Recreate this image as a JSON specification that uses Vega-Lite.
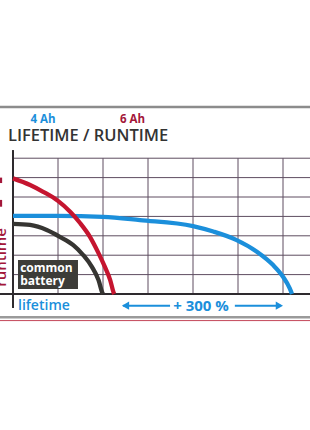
{
  "$schema": "https://vega.github.io/schema/vega-lite/v6.json",
  "autosize": {"type": "none"},
  "width": 310,
  "height": 430,
  "padding": 0,
  "background": "#ffffff",
  "config": {"view": {"stroke": null}},
  "datasets": {
    "gridv": [{"gx": 1}, {"gx": 2}, {"gx": 3}, {"gx": 4}, {"gx": 5}, {"gx": 6}],
    "gridh": [{"gy": 1}, {"gy": 2}, {"gy": 3}, {"gy": 4}, {"gy": 5}, {"gy": 6}, {"gy": 7}],
    "curves": [
      {"series": "4 Ah", "o": 0, "cx": 0, "cy": 4.03},
      {"series": "4 Ah", "o": 1, "cx": 1, "cy": 4.03},
      {"series": "4 Ah", "o": 2, "cx": 2, "cy": 3.98},
      {"series": "4 Ah", "o": 3, "cx": 2.82, "cy": 3.81},
      {"series": "4 Ah", "o": 4, "cx": 4.0, "cy": 3.5},
      {"series": "4 Ah", "o": 5, "cx": 4.45, "cy": 3.22},
      {"series": "4 Ah", "o": 6, "cx": 4.97, "cy": 2.78},
      {"series": "4 Ah", "o": 7, "cx": 5.42, "cy": 2.18},
      {"series": "4 Ah", "o": 8, "cx": 5.78, "cy": 1.49},
      {"series": "4 Ah", "o": 9, "cx": 6.0, "cy": 0.89},
      {"series": "4 Ah", "o": 10, "cx": 6.15, "cy": 0.29},
      {"series": "4 Ah", "o": 11, "cx": 6.2, "cy": 0},
      {"series": "6 Ah", "o": 0, "cx": 0, "cy": 5.96},
      {"series": "6 Ah", "o": 1, "cx": 0.38, "cy": 5.62},
      {"series": "6 Ah", "o": 2, "cx": 0.67, "cy": 5.27},
      {"series": "6 Ah", "o": 3, "cx": 1.0, "cy": 4.8},
      {"series": "6 Ah", "o": 4, "cx": 1.27, "cy": 4.24},
      {"series": "6 Ah", "o": 5, "cx": 1.49, "cy": 3.66},
      {"series": "6 Ah", "o": 6, "cx": 1.71, "cy": 2.95},
      {"series": "6 Ah", "o": 7, "cx": 1.9, "cy": 2.11},
      {"series": "6 Ah", "o": 8, "cx": 2.04, "cy": 1.41},
      {"series": "6 Ah", "o": 9, "cx": 2.16, "cy": 0.72},
      {"series": "6 Ah", "o": 10, "cx": 2.24, "cy": 0.05},
      {"series": "6 Ah", "o": 11, "cx": 2.25, "cy": 0},
      {"series": "common", "o": 0, "cx": 0, "cy": 3.62},
      {"series": "common", "o": 1, "cx": 0.38, "cy": 3.56},
      {"series": "common", "o": 2, "cx": 0.75, "cy": 3.3},
      {"series": "common", "o": 3, "cx": 1.04, "cy": 2.95},
      {"series": "common", "o": 4, "cx": 1.34, "cy": 2.52},
      {"series": "common", "o": 5, "cx": 1.56, "cy": 2.01},
      {"series": "common", "o": 6, "cx": 1.75, "cy": 1.41},
      {"series": "common", "o": 7, "cx": 1.9, "cy": 0.72},
      {"series": "common", "o": 8, "cx": 1.99, "cy": 0.04},
      {"series": "common", "o": 9, "cx": 2.0, "cy": 0}
    ]
  },
  "data": {"name": "gridv"},
  "layer": [
    {
      "data": {"values": [{"ly": 9.64}]},
      "mark": {"type": "rule", "color": "#8c8c8c", "strokeWidth": 2.5},
      "encoding": {
        "x": {"datum": -0.289, "type": "quantitative", "scale": {"domain": [-0.289, 6.6], "nice": false, "zero": false}, "axis": null},
        "x2": {"datum": 6.6},
        "y": {"field": "ly", "type": "quantitative", "scale": {"domain": [-7.01, 15.155], "nice": false, "zero": false}, "axis": null}
      }
    },
    {
      "data": {"values": [{"ly": -1.2}]},
      "mark": {"type": "rule", "color": "#9a9a9a", "strokeWidth": 2.5},
      "encoding": {
        "x": {"datum": -0.289, "type": "quantitative"},
        "x2": {"datum": 6.6},
        "y": {"field": "ly", "type": "quantitative"}
      }
    },
    {
      "data": {"values": [{"ly": -1.37}]},
      "mark": {"type": "rule", "color": "#c4475a", "strokeWidth": 1},
      "encoding": {
        "x": {"datum": -0.289, "type": "quantitative"},
        "x2": {"datum": 6.6},
        "y": {"field": "ly", "type": "quantitative"}
      }
    },
    {
      "data": {"name": "gridv"},
      "mark": {"type": "rule", "color": "#5e4d60", "strokeWidth": 1},
      "encoding": {
        "x": {"field": "gx", "type": "quantitative"},
        "y": {"datum": 0, "type": "quantitative"},
        "y2": {"datum": 7}
      }
    },
    {
      "data": {"name": "gridh"},
      "mark": {"type": "rule", "color": "#5e4d60", "strokeWidth": 1},
      "encoding": {
        "x": {"datum": 0, "type": "quantitative"},
        "x2": {"datum": 6.6},
        "y": {"field": "gy", "type": "quantitative"}
      }
    },
    {
      "data": {"values": [{"ax": 0}]},
      "mark": {"type": "rule", "color": "#2e2a2e", "strokeWidth": 2},
      "encoding": {
        "x": {"field": "ax", "type": "quantitative"},
        "y": {"datum": -0.72, "type": "quantitative"},
        "y2": {"datum": 7.42}
      }
    },
    {
      "data": {"values": [{"ay": 0}]},
      "mark": {"type": "rule", "color": "#2e2a2e", "strokeWidth": 2},
      "encoding": {
        "x": {"datum": -0.289, "type": "quantitative"},
        "x2": {"datum": 6.6},
        "y": {"field": "ay", "type": "quantitative"}
      }
    },
    {
      "data": {"name": "curves"},
      "mark": {"type": "line", "strokeWidth": 4.3, "interpolate": "monotone"},
      "encoding": {
        "x": {"field": "cx", "type": "quantitative"},
        "y": {"field": "cy", "type": "quantitative"},
        "order": {"field": "o", "type": "quantitative"},
        "detail": {"field": "series"},
        "color": {"field": "series", "type": "nominal", "scale": {"domain": ["4 Ah", "6 Ah", "common"], "range": ["#1b8fdb", "#c5152f", "#363532"]}, "legend": null}
      }
    },
    {
      "data": {"values": [{"bx": 0.111, "bx2": 1.444, "by": 0.258, "by2": 1.753}]},
      "mark": {"type": "rect", "color": "#3d3c38"},
      "encoding": {
        "x": {"field": "bx", "type": "quantitative"},
        "x2": {"field": "bx2"},
        "y": {"field": "by", "type": "quantitative"},
        "y2": {"field": "by2"}
      }
    },
    {
      "data": {"values": [{"t": "common", "tx": 0.16, "ty": 1.36}, {"t": "battery", "tx": 0.16, "ty": 0.68}]},
      "mark": {"type": "text", "align": "left", "baseline": "middle", "font": "Open Sans", "fontWeight": "bold", "fontSize": 12, "color": "#ffffff"},
      "encoding": {
        "x": {"field": "tx", "type": "quantitative"},
        "y": {"field": "ty", "type": "quantitative"},
        "text": {"field": "t"}
      }
    },
    {
      "data": {"values": [{"t": "LIFETIME / RUNTIME", "tx": -0.111, "ty": 8.14}]},
      "mark": {"type": "text", "align": "left", "baseline": "middle", "font": "Open Sans", "fontWeight": 600, "fontSize": 16.5, "color": "#333333"},
      "encoding": {
        "x": {"field": "tx", "type": "quantitative"},
        "y": {"field": "ty", "type": "quantitative"},
        "text": {"field": "t"}
      }
    },
    {
      "data": {"values": [{"t": "4 Ah", "tx": 0.667, "ty": 8.98}]},
      "mark": {"type": "text", "align": "center", "baseline": "middle", "font": "Open Sans", "fontWeight": "bold", "fontSize": 11.5, "color": "#1b8fdb"},
      "encoding": {
        "x": {"field": "tx", "type": "quantitative"},
        "y": {"field": "ty", "type": "quantitative"},
        "text": {"field": "t"}
      }
    },
    {
      "data": {"values": [{"t": "6 Ah", "tx": 2.656, "ty": 8.98}]},
      "mark": {"type": "text", "align": "center", "baseline": "middle", "font": "Open Sans", "fontWeight": "bold", "fontSize": 11.5, "color": "#a3173a"},
      "encoding": {
        "x": {"field": "tx", "type": "quantitative"},
        "y": {"field": "ty", "type": "quantitative"},
        "text": {"field": "t"}
      }
    },
    {
      "data": {"values": [{"t": "runtime", "tx": -0.165, "ty": 1.88}]},
      "mark": {"type": "text", "align": "center", "baseline": "alphabetic", "angle": 270, "font": "Open Sans", "fontWeight": 600, "fontSize": 15, "color": "#a3173a"},
      "encoding": {
        "x": {"field": "tx", "type": "quantitative"},
        "y": {"field": "ty", "type": "quantitative"},
        "text": {"field": "t"}
      }
    },
    {
      "data": {"values": [{"ry": 5.72, "ry2": 6.0}, {"ry": 4.5, "ry2": 4.85}]},
      "mark": {"type": "rule", "color": "#a3173a", "strokeWidth": 3},
      "encoding": {
        "x": {"datum": -0.275, "type": "quantitative"},
        "y": {"field": "ry", "type": "quantitative"},
        "y2": {"field": "ry2"}
      }
    },
    {
      "data": {"values": [{"t": "lifetime", "tx": 0.111, "ty": -0.62}]},
      "mark": {"type": "text", "align": "left", "baseline": "middle", "font": "Open Sans", "fontWeight": 600, "fontSize": 14, "color": "#1b8fdb"},
      "encoding": {
        "x": {"field": "tx", "type": "quantitative"},
        "y": {"field": "ty", "type": "quantitative"},
        "text": {"field": "t"}
      }
    },
    {
      "data": {"values": [{"t": "+ 300 %", "tx": 4.178, "ty": -0.62}]},
      "mark": {"type": "text", "align": "center", "baseline": "middle", "font": "Open Sans", "fontWeight": "bold", "fontSize": 15, "color": "#1b8fdb"},
      "encoding": {
        "x": {"field": "tx", "type": "quantitative"},
        "y": {"field": "ty", "type": "quantitative"},
        "text": {"field": "t"}
      }
    },
    {
      "data": {"values": [{"ax1": 2.45, "ax2": 3.49}, {"ax1": 4.93, "ax2": 5.95}]},
      "mark": {"type": "rule", "color": "#1b8fdb", "strokeWidth": 2},
      "encoding": {
        "x": {"field": "ax1", "type": "quantitative"},
        "x2": {"field": "ax2"},
        "y": {"datum": -0.6, "type": "quantitative"}
      }
    },
    {
      "data": {"values": [{"hx": 2.5, "dir": "left"}, {"hx": 5.92, "dir": "right"}]},
      "mark": {"type": "point", "filled": true, "size": 70, "opacity": 1, "color": "#1b8fdb"},
      "encoding": {
        "x": {"field": "hx", "type": "quantitative"},
        "y": {"datum": -0.6, "type": "quantitative"},
        "shape": {"field": "dir", "type": "nominal", "scale": {"domain": ["left", "right"], "range": ["triangle-left", "triangle-right"]}, "legend": null}
      }
    }
  ]
}
